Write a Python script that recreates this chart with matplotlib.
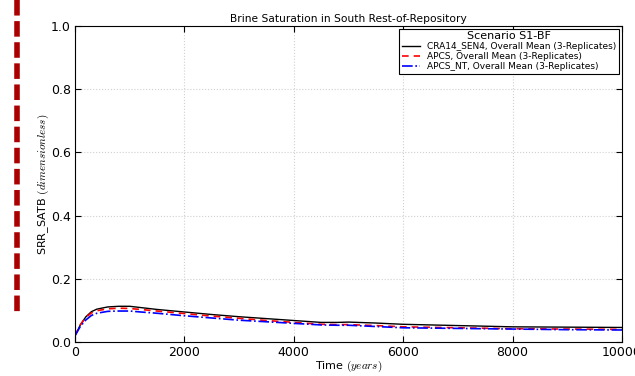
import numpy as np
import matplotlib
matplotlib.use("Agg")
from matplotlib import pyplot as plt
from matplotlib.lines import Line2D

plt.rcParams['mathtext.fontset'] = 'cm'

# time (years) and mean brine saturation
time = [0, 100, 200, 300, 400, 600, 800, 1000, 1200, 1500, 2000, 2500, 3000,
        3500, 4000, 4500, 4800, 5000, 5500, 6000, 7000, 8000, 9000, 10000]
cra14 = [0.020, 0.055, 0.080, 0.096, 0.104, 0.111, 0.113, 0.113, 0.109, 0.103,
         0.095, 0.087, 0.080, 0.074, 0.068, 0.062, 0.062, 0.063, 0.060, 0.056,
         0.052, 0.048, 0.047, 0.046]
apcs = [0.020, 0.055, 0.078, 0.092, 0.099, 0.105, 0.107, 0.106, 0.103, 0.098,
        0.090, 0.082, 0.075, 0.068, 0.062, 0.056, 0.055, 0.055, 0.052, 0.048,
        0.045, 0.042, 0.041, 0.040]
apcs_nt = [0.020, 0.050, 0.070, 0.084, 0.091, 0.097, 0.098, 0.098, 0.095, 0.091,
           0.083, 0.076, 0.069, 0.064, 0.059, 0.054, 0.053, 0.053, 0.049, 0.045,
           0.043, 0.041, 0.039, 0.038]

fig = plt.figure(figsize=(6.35, 3.76), dpi=100)
ax = fig.add_axes([75/635, 1 - 342/376, 547/635, 316/376])

ax.plot(time, cra14, color='black', lw=1.0, label='CRA14_SEN4, Overall Mean (3-Replicates)')
ax.plot(time, apcs, color='red', lw=1.2, ls='--', dashes=(4, 3),
        label='APCS, Overall Mean (3-Replicates)')
ax.plot(time, apcs_nt, color='blue', lw=1.2, ls='-.',
        label='APCS_NT, Overall Mean (3-Replicates)')

ax.set_xlim(0, 10000)
ax.set_ylim(0, 1.0)
ax.set_xticks([0, 2000, 4000, 6000, 8000, 10000])
ax.set_yticks([0.0, 0.2, 0.4, 0.6, 0.8, 1.0])
ax.tick_params(direction='in', labelsize=9, top=True, right=True, length=4, pad=3)
ax.grid(True, ls=':', color='#d0d0d0', lw=0.8)
ax.set_title('Brine Saturation in South Rest-of-Repository', fontsize=7.7, pad=3)
ax.set_xlabel('Time $(years)$', fontsize=8, labelpad=0)
ax.set_ylabel('SRR_SATB $(dimensionless)$', fontsize=8, labelpad=0)

leg = ax.legend(loc='upper right', title='Scenario S1-BF', fontsize=6.5,
                title_fontsize=8, fancybox=False, framealpha=1,
                edgecolor='black', borderpad=0.3, labelspacing=0.1,
                handlelength=2.0, borderaxespad=0.3)
leg.get_frame().set_linewidth(0.8)

# dashed red bar on the left edge
bar = Line2D([17/635, 17/635], [1.0, 1 - 313/376], color='#aa0000',
             lw=4, ls=(0, (2.8, 1.0)), transform=fig.transFigure)
bar.set_dash_capstyle('butt')
fig.add_artist(bar)

fig.savefig('out.png', dpi=100)
